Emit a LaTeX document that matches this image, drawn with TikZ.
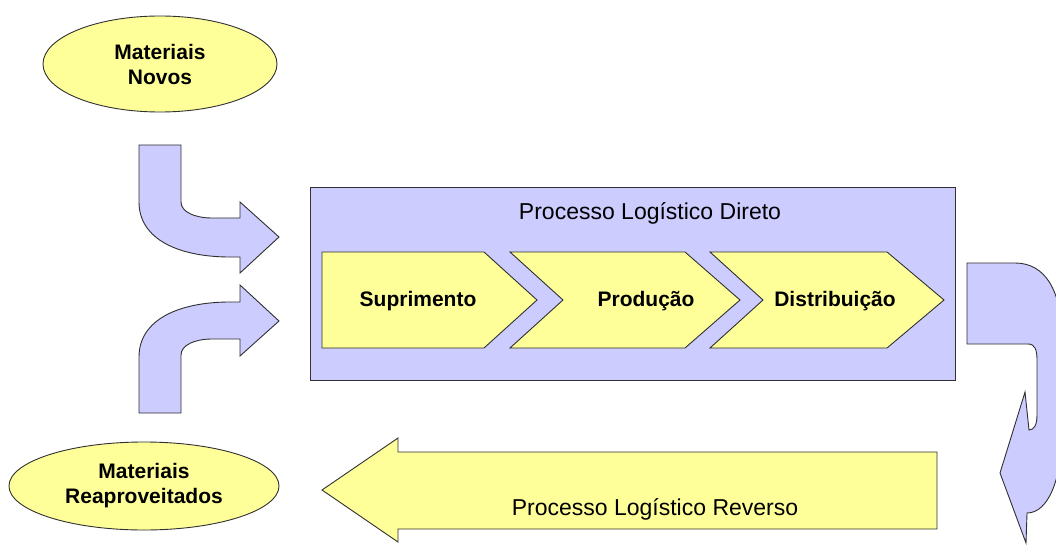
\documentclass[tikz,border=0pt]{standalone}
\usepackage{fontspec}
\setmainfont{Liberation Sans}
\usetikzlibrary{shapes.geometric}
\definecolor{bluefill}{HTML}{CCCCFF}
\definecolor{yellowfill}{HTML}{FFFF99}
\definecolor{edge}{HTML}{303030}
\tikzset{
  blockshape/.style={draw=edge, line width=0.9pt, line join=miter},
  bluebody/.style={blockshape, fill=bluefill},
  yellowbody/.style={blockshape, fill=yellowfill},
  boldtxt/.style={font=\fontsize{21}{25}\selectfont\bfseries, anchor=base, inner sep=0pt},
  plaintxt/.style={font=\fontsize{23}{27}\selectfont, anchor=base, inner sep=0pt},
  ellipsenode/.style={ellipse, draw=edge, line width=0.9pt, fill=yellowfill, inner sep=0pt,
    align=center, font=\fontsize{21}{25}\selectfont\bfseries}
}
\begin{document}
\begin{tikzpicture}[x=1pt, y=-1pt]
\useasboundingbox (0,0) rectangle (1056,545);
\begin{scope}
\clip (0,0) rectangle (1056,545);
% ellipses
\node[ellipsenode, minimum width=234pt, minimum height=96pt] (novos) at (160,64) {Materiais\\Novos};
\node[ellipsenode, minimum width=270pt, minimum height=88pt] (reap) at (144,486) {Materiais\\Reaproveitados};
% curved arrow from top
\draw[bluebody] (139,145) -- (181,145) -- (181,202)
  .. controls (181,212) and (195,218) .. (212,218) -- (240,218) -- (240,202)
  -- (279,237) -- (240,273) -- (240,257) -- (230,257)
  .. controls (180,257) and (139,240) .. (139,202) -- cycle;
% curved arrow from bottom
\draw[bluebody] (139,413) -- (181,413) -- (181,355)
  .. controls (181,345) and (195,339) .. (212,339) -- (240,339) -- (240,356)
  -- (279,321) -- (240,285) -- (240,302) -- (230,302)
  .. controls (180,302) and (139,319) .. (139,357) -- cycle;
% main box
\node[bluebody, minimum width=645pt, minimum height=193pt, inner sep=0pt] (direto) at (632.5,283.5) {};
\node[plaintxt] (diretolbl) at (650,220) {Processo Logístico Direto};
% chevrons
\draw[yellowbody] (322,252) -- (484,252) -- (537,300) -- (484,348) -- (322,348) -- cycle;
\draw[yellowbody] (510,252) -- (685,252) -- (740,300) -- (685,348) -- (510,348) -- (563,300) -- cycle;
\draw[yellowbody] (710,252) -- (887,252) -- (944,300) -- (887,348) -- (710,348) -- (763,300) -- cycle;
\node[boldtxt] (sup) at (418,306) {Suprimento};
\node[boldtxt] (prod) at (646,306) {Produção};
\node[boldtxt] (dist) at (835,306) {Distribuição};
% right turning arrow
\draw[bluebody] (967,263) -- (1015,263)
  .. controls (1045,263) and (1062,290) .. (1062,340) -- (1062,430)
  .. controls (1062,480) and (1048,513) .. (1027,513)
  -- (1026,543) -- (1000,473) -- (1025,392) -- (1029,430)
  .. controls (1034,430) and (1037,425) .. (1037,415) -- (1037,360)
  .. controls (1037,350) and (1035,344) .. (1028,344)
  -- (967,344) -- cycle;
% reverse arrow
\draw[yellowbody] (937,452) -- (398,452) -- (398,438) -- (322,490) -- (398,542) -- (398,529) -- (937,529) -- cycle;
\node[plaintxt] (revlbl) at (655,515) {Processo Logístico Reverso};
\end{scope}
\end{tikzpicture}
\end{document}
